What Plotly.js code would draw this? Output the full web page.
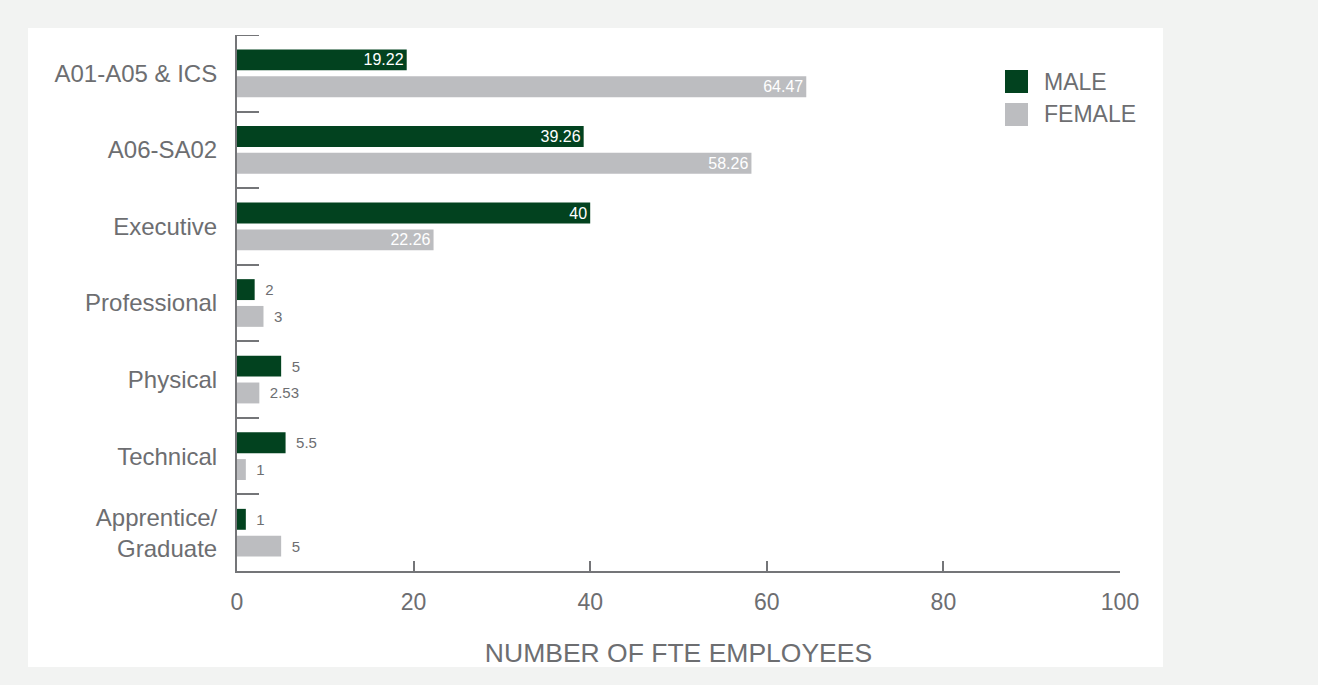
<!DOCTYPE html>
<html>
<head>
<meta charset="utf-8">
<script src="https://cdn.plot.ly/plotly-3.0.1.min.js"></script>
<style>
  html, body { margin: 0; padding: 0; background: #f2f3f2; }
  #chart { width: 1318px; height: 685px; }
</style>
</head>
<body>
<div id="chart"></div>
<script>
// Staff grades (top to bottom)
const categories = [
  "A01-A05 & ICS",
  "A06-SA02",
  "Executive",
  "Professional",
  "Physical",
  "Technical",
  "Apprentice/<br>Graduate"
];
const seriesNames = ["MALE", "FEMALE"];
const maleFTE   = [19.22, 39.26, 40, 2, 5, 5.5, 1];
const femaleFTE = [64.47, 58.26, 22.26, 3, 2.53, 1, 5];
const xTicks = [0, 20, 40, 60, 80, 100];

const GREEN = "#02421f";
const GREY_BAR = "#bcbdc0";
const TEXT = "#6d6e71";
const LINE = "#747578";
const FONT = "Liberation Sans, Arial, Helvetica, sans-serif";

// Long bars carry their value inside (white), short ones outside (grey)
const isInside = v => v >= 10;

function barTrace(name, vals, color) {
  return {
    type: "bar",
    orientation: "h",
    name: name,
    y: categories,
    x: vals,
    marker: { color: color },
    // a small lead space keeps outside labels clear of the bar end
    text: vals.map(v => (isInside(v) ? String(v) : "\u2002" + v)),
    textposition: vals.map(v => (isInside(v) ? "inside" : "outside")),
    textangle: 0,
    insidetextanchor: "end",
    insidetextfont: { color: "#ffffff", size: 16, family: FONT },
    outsidetextfont: { color: TEXT, size: 15, family: FONT },
    constraintext: "none",
    cliponaxis: false,
    hoverinfo: "x+y+name"
  };
}

const data = [
  barTrace(seriesNames[0], maleFTE, GREEN),
  barTrace(seriesNames[1], femaleFTE, GREY_BAR)
];

// Plot area: 237..1120 px horizontally, 35..571 px vertically
const L = 237, R = 1120, T = 35, B = 571, W = 1318, H = 685;
const px = x => (x - L) / (R - L);
const py = y => (B - y) / (B - T);

const layout = {
  width: W,
  height: H,
  margin: { l: L, r: W - R, t: T, b: H - B, pad: 0 },
  paper_bgcolor: "#f2f3f2",
  plot_bgcolor: "rgba(0,0,0,0)",
  font: { family: FONT, color: TEXT },
  barmode: "group",
  bargap: 0.3,
  bargroupgap: 0.22,
  showlegend: false,
  xaxis: {
    range: [0, 100],
    tickvals: xTicks,
    ticktext: xTicks.map(String),
    ticks: "inside",
    ticklen: 10,
    tickwidth: 2,
    tickcolor: LINE,
    showline: true,
    linecolor: LINE,
    linewidth: 2,
    showgrid: false,
    zeroline: false,
    tickfont: { size: 23, color: TEXT, family: FONT },
    ticklabelstandoff: 9,
    title: {
      text: "NUMBER OF FTE EMPLOYEES",
      font: { size: 26.5, color: TEXT, family: FONT },
      standoff: 30
    }
  },
  yaxis: {
    type: "category",
    categoryorder: "array",
    categoryarray: categories,
    range: [6.5, -0.5],
    tickson: "boundaries",
    ticks: "inside",
    ticklen: 22,
    tickwidth: 2,
    tickcolor: LINE,
    showline: true,
    linecolor: LINE,
    linewidth: 2,
    showgrid: false,
    zeroline: false,
    tickfont: { size: 24, color: TEXT, family: FONT },
    ticklabelstandoff: 13
  },
  shapes: [
    // white card behind the chart
    { type: "rect", xref: "paper", yref: "paper", layer: "below",
      x0: px(28), x1: px(1163), y0: py(667), y1: py(28),
      fillcolor: "#ffffff", line: { width: 0 } },
    // boundary tick at the top of the category axis
    { type: "line", xref: "paper", yref: "y",
      x0: 0, x1: px(259), y0: -0.5, y1: -0.5,
      line: { color: LINE, width: 2 } },
    // legend swatches
    { type: "rect", xref: "paper", yref: "paper",
      x0: px(1005), x1: px(1028), y0: py(93), y1: py(70),
      fillcolor: GREEN, line: { width: 0 } },
    { type: "rect", xref: "paper", yref: "paper",
      x0: px(1005), x1: px(1028), y0: py(126), y1: py(103),
      fillcolor: GREY_BAR, line: { width: 0 } }
  ],
  annotations: [
    { xref: "paper", yref: "paper", x: px(1042), y: py(81.5),
      xanchor: "left", yanchor: "middle", showarrow: false,
      text: seriesNames[0], font: { size: 23, color: TEXT, family: FONT } },
    { xref: "paper", yref: "paper", x: px(1042), y: py(114.5),
      xanchor: "left", yanchor: "middle", showarrow: false,
      text: seriesNames[1], font: { size: 23, color: TEXT, family: FONT } }
  ]
};

Plotly.newPlot("chart", data, layout, { displayModeBar: false, staticPlot: true });
</script>
</body>
</html>
